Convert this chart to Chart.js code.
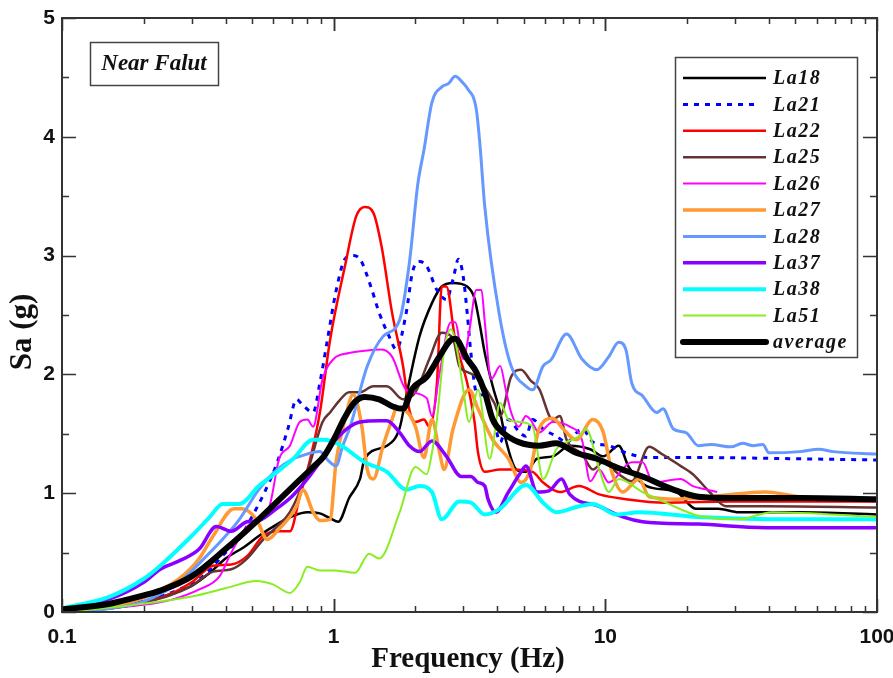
<!DOCTYPE html>
<html>
<head>
<meta charset="utf-8">
<script src="https://cdn.jsdelivr.net/npm/chart.js@4/dist/chart.umd.min.js"></script>
<style>
html,body{margin:0;padding:0;background:#fff;}
#c{display:block;}
</style>
</head>
<body>
<canvas id="c" width="893" height="678"></canvas>
<script>
// ---------- data (frequency in Hz, Sa in g) ----------
const la18F = [0.1,0.15,0.2,0.25,0.3,0.35,0.4,0.47,0.53,0.62,0.71,0.8,0.89,0.97,1.04,1.14,1.25,1.3,1.57,1.75,1.85,2.07,2.3,2.5,2.75,3.1,3.3,3.45,3.6,3.85,4.1,4.3,4.7,5.1,5.6,6.4,7.4,8.8,9.8,11.2,12.2,14.2,18.3,21.5,26,31,52,100];
const la18V = [0.01,0.04,0.09,0.15,0.22,0.33,0.45,0.55,0.64,0.74,0.81,0.84,0.83,0.79,0.76,0.96,1.12,1.29,1.4,1.55,1.82,2.32,2.6,2.74,2.77,2.74,2.64,2.42,2.18,1.9,1.68,1.45,1.2,1.18,1.29,1.31,1.4,1.37,1.31,1.4,1.22,1.06,1.01,0.87,0.87,0.84,0.84,0.82];

const la21F = [0.1,0.15,0.2,0.27,0.33,0.4,0.45,0.5,0.56,0.62,0.68,0.73,0.77,0.84,0.89,0.95,1.02,1.1,1.17,1.25,1.37,1.47,1.6,1.7,1.85,1.95,2.07,2.2,2.4,2.6,2.75,2.88,3.0,3.1,3.2,3.35,3.6,3.95,4.1,4.4,4.8,5.1,5.4,5.9,6.6,7.2,8.2,9,10.3,11.9,14.5,22,50,100];
const la21V = [0.01,0.04,0.09,0.19,0.3,0.5,0.62,0.8,1.02,1.26,1.55,1.79,1.74,1.68,1.93,2.3,2.7,2.97,3.0,2.97,2.74,2.52,2.32,2.21,2.52,2.86,2.95,2.91,2.71,2.63,2.8,2.97,2.82,2.52,2.18,1.85,1.82,1.54,1.43,1.62,1.52,1.48,1.62,1.54,1.48,1.43,1.54,1.43,1.4,1.34,1.3,1.3,1.29,1.28];

const la22F = [0.1,0.15,0.2,0.25,0.3,0.36,0.42,0.48,0.55,0.63,0.69,0.75,0.82,0.89,0.97,1.1,1.21,1.3,1.4,1.5,1.64,1.8,1.9,2.0,2.15,2.25,2.4,2.5,2.6,2.8,3.1,3.3,3.4,3.6,4.1,4.5,5.4,5.9,6.8,8,9.5,11.9,16.7,29,100];
const la22V = [0.01,0.03,0.08,0.15,0.25,0.39,0.4,0.47,0.64,0.68,0.68,0.97,1.29,1.68,2.29,2.91,3.33,3.41,3.36,3.08,2.52,2.07,1.7,1.6,1.62,1.56,1.93,2.74,2.74,2.29,1.93,1.6,1.34,1.18,1.2,1.2,1.18,1.09,1.01,1.06,0.99,0.95,0.92,0.93,0.93];

const la25F = [0.1,0.15,0.2,0.25,0.3,0.36,0.42,0.48,0.55,0.62,0.69,0.8,0.91,0.97,1.05,1.14,1.25,1.4,1.57,1.8,2.0,2.25,2.5,2.75,2.9,3.1,3.35,3.9,4.1,4.5,4.9,5.3,5.7,6.4,6.8,7.2,8.2,9,9.8,11.2,12.5,14.5,15.9,18.9,21,24.2,27.8,39,100];
const la25V = [0.01,0.03,0.08,0.14,0.22,0.34,0.36,0.45,0.61,0.72,0.84,1.18,1.6,1.68,1.78,1.85,1.85,1.9,1.9,1.79,1.85,2.13,2.35,2.3,2.07,2.02,1.98,1.76,1.65,1.98,2.04,1.95,1.88,1.62,1.65,1.45,1.33,1.2,1.26,1.16,1.1,1.39,1.34,1.23,1.16,1.01,0.89,0.89,0.88];

const la26F = [0.1,0.2,0.25,0.32,0.38,0.42,0.48,0.58,0.63,0.69,0.75,0.8,0.84,0.91,1.0,1.14,1.3,1.5,1.64,1.85,2.2,2.3,2.45,2.7,2.8,3.0,3.15,3.35,3.5,3.6,3.8,4.1,4.3,4.5,4.8,5.1,5.3,5.7,6.4,7.4,8.2,8.8,9.5,10.3,12.5,13.7,15,18.9,21,23.7,25.8];
const la26V = [0.01,0.06,0.1,0.19,0.3,0.5,0.72,0.89,1.29,1.4,1.6,1.62,1.56,1.96,2.13,2.18,2.2,2.21,2.15,1.87,1.8,1.65,2.0,2.44,2.44,2.13,2.35,2.71,2.71,2.44,1.96,2.07,1.87,1.68,1.56,1.65,1.62,1.51,1.6,1.56,1.45,1.1,1.2,1.09,1.26,1.26,1.09,1.12,1.06,1.03,1.01];

const la27F = [0.1,0.15,0.2,0.27,0.32,0.36,0.43,0.46,0.52,0.57,0.63,0.73,0.77,0.84,0.89,0.97,1.02,1.1,1.18,1.27,1.33,1.4,1.52,1.64,1.7,1.85,2.0,2.15,2.3,2.45,2.55,2.75,3.15,3.4,3.85,4.4,4.9,5.3,5.7,6.4,7.0,7.8,9.0,9.8,10.6,11.6,13.3,14.5,18.3,39,52,100];
const la27V = [0.01,0.04,0.12,0.28,0.45,0.64,0.87,0.87,0.78,0.61,0.7,0.89,1.03,0.84,0.77,0.78,1.26,1.62,1.83,1.56,1.2,1.12,1.4,1.62,1.71,1.69,1.56,1.3,1.62,1.35,1.2,1.54,1.87,1.71,1.45,1.29,1.09,1.2,1.54,1.63,1.54,1.45,1.62,1.52,1.17,1.01,1.12,0.97,0.95,1.01,0.97,0.95];

const la28F = [0.1,0.15,0.2,0.27,0.34,0.4,0.45,0.53,0.62,0.71,0.75,0.89,0.95,1.02,1.08,1.15,1.33,1.52,1.75,1.9,2.04,2.15,2.3,2.5,2.65,2.8,3.0,3.1,3.35,3.45,3.6,4.06,4.5,5.1,5.4,5.9,6.3,7.2,8.2,9.3,10.3,11.2,11.9,12.5,13.7,15.5,16.3,17.8,19.8,22,24.5,29,32,35,38,40,52,61,69,100];
const la28V = [0.01,0.03,0.09,0.25,0.47,0.64,0.78,1.03,1.2,1.29,1.31,1.35,1.28,1.23,1.4,1.56,2.07,2.32,2.46,2.94,3.6,3.89,4.29,4.42,4.45,4.51,4.45,4.41,4.23,3.95,3.41,2.52,2.07,1.9,1.87,2.07,2.12,2.34,2.13,2.04,2.15,2.27,2.21,1.93,1.82,1.68,1.71,1.54,1.51,1.4,1.41,1.39,1.42,1.4,1.41,1.34,1.35,1.37,1.35,1.33];

const la37F = [0.1,0.15,0.2,0.23,0.27,0.32,0.37,0.42,0.48,0.53,0.6,0.7,0.8,0.9,1.02,1.13,1.25,1.48,1.57,1.75,1.9,2.07,2.3,2.6,2.95,3.2,3.4,3.6,3.7,3.95,4.4,4.9,5.1,5.6,6.2,6.9,7.4,9.5,11.6,13.7,22,39,100];
const la37V = [0.02,0.11,0.25,0.36,0.43,0.53,0.72,0.68,0.76,0.77,0.85,0.97,1.12,1.28,1.45,1.55,1.6,1.61,1.61,1.51,1.4,1.35,1.44,1.31,1.14,1.14,1.09,1.06,0.95,0.84,1.01,1.18,1.23,1.01,1.02,1.12,0.99,0.89,0.8,0.76,0.74,0.71,0.71];

const la38F = [0.1,0.15,0.2,0.23,0.3,0.35,0.39,0.45,0.53,0.62,0.71,0.84,0.92,1.05,1.3,1.57,1.85,2.07,2.3,2.5,2.9,3.2,3.6,4.1,5.1,5.9,6.6,8,9,11,13.3,22,50,100];
const la38V = [0.03,0.13,0.28,0.39,0.64,0.8,0.91,0.91,1.06,1.18,1.29,1.45,1.45,1.41,1.26,1.18,1.03,1.06,1.01,0.78,0.93,0.92,0.82,0.87,1.07,0.92,0.84,0.89,0.91,0.82,0.84,0.8,0.78,0.78];

const la51F = [0.1,0.17,0.3,0.4,0.52,0.6,0.69,0.75,0.8,0.89,1.0,1.2,1.35,1.47,1.75,2.0,2.2,2.3,2.4,2.55,2.7,2.85,3.0,3.15,3.4,3.75,4.1,4.4,4.8,5.4,5.9,6.6,7.2,8,8.5,9.5,10.3,11.2,13.7,16.7,22,31,41,100];
const la51V = [0.0,0.05,0.13,0.2,0.26,0.23,0.16,0.25,0.38,0.35,0.35,0.33,0.49,0.45,0.84,1.22,1.16,1.34,1.62,2.2,2.38,2.2,1.87,1.6,1.87,1.29,1.76,1.62,1.6,1.56,1.12,1.37,1.43,1.48,1.54,1.2,1.01,1.12,1.01,0.92,0.81,0.78,0.84,0.8];

const avgF = [0.1,0.15,0.2,0.23,0.3,0.4,0.53,0.71,0.84,0.92,1.0,1.1,1.2,1.3,1.47,1.65,1.8,1.95,2.2,2.45,2.7,2.8,3.1,3.35,3.6,3.85,4.2,4.8,5.7,6.6,7.8,9.3,11.2,13.7,17.8,22,29,52,100];
const avgV = [0.02,0.07,0.14,0.18,0.3,0.53,0.78,1.06,1.22,1.31,1.45,1.64,1.77,1.81,1.79,1.73,1.71,1.88,1.98,2.15,2.29,2.3,2.13,2.02,1.85,1.62,1.51,1.43,1.4,1.42,1.34,1.29,1.21,1.14,1.03,0.97,0.96,0.96,0.95];

const seriesNames = ["La18","La21","La22","La25","La26","La27","La28","La37","La38","La51","average"];
const xTickLabels = [0.1, 1, 10, 100];
const yTickLabels = [0, 1, 2, 3, 4, 5];
const noteText = "Near Falut";
const xTitle = "Frequency (Hz)";
const yTitle = "Sa (g)";

// ---------- styles ----------
const styles = [
  {color:"#000000", width:2.5},
  {color:"#0000ff", width:3, dash:[5,6]},
  {color:"#ff0000", width:2.5},
  {color:"#663333", width:2.5},
  {color:"#ff00ff", width:2},
  {color:"#ff9933", width:3.5},
  {color:"#6699ff", width:3},
  {color:"#8800ff", width:3.5},
  {color:"#00ffff", width:4},
  {color:"#88ee22", width:2},
  {color:"#000000", width:6}
];
const allF = [la18F,la21F,la22F,la25F,la26F,la27F,la28F,la37F,la38F,la51F,avgF];
const allV = [la18V,la21V,la22V,la25V,la26V,la27V,la28V,la37V,la38V,la51V,avgV];

const datasets = seriesNames.map((name,i)=>({
  label: name,
  data: allF[i].map((f,j)=>({x:f, y:allV[i][j]})),
  borderColor: styles[i].color,
  backgroundColor: styles[i].color,
  borderWidth: styles[i].width,
  borderDash: styles[i].dash || [],
  pointRadius: 0,
  fill: false,
  cubicInterpolationMode: 'monotone',
  order: name === "average" ? 0 : (seriesNames.length - i)
}));

const frameColor = "#333";
const decorPlugin = {
  id: 'decor',
  afterDatasetsDraw(chart){
    const ctx = chart.ctx;
    const a = chart.chartArea;
    const xs = chart.scales.x, ys = chart.scales.y;
    ctx.save();
    // frame
    ctx.strokeStyle = frameColor;
    ctx.lineWidth = 2;
    ctx.setLineDash([]);
    ctx.strokeRect(a.left, a.top, a.right - a.left, a.bottom - a.top);
    ctx.lineWidth = 1.5;
    // x ticks (log)
    for (let d = 0.1; d < 100; d *= 10) {
      for (let m = 1; m <= 10; m++) {
        const v = +(d*m).toPrecision(6);
        if (v < 0.1 || v > 100) continue;
        const px = Math.round(xs.getPixelForValue(v)) + 0.5;
        const major = (m === 1 || m === 10);
        const len = major ? 13 : 6;
        ctx.beginPath();
        ctx.moveTo(px, a.bottom); ctx.lineTo(px, a.bottom - len);
        ctx.moveTo(px, a.top); ctx.lineTo(px, a.top + len);
        ctx.stroke();
      }
    }
    // y ticks
    for (let v = 0; v <= 5.001; v += 0.5) {
      const py = Math.round(ys.getPixelForValue(v)) + 0.5;
      const major = Math.abs(v - Math.round(v)) < 1e-6;
      const len = major ? 14 : 7;
      ctx.beginPath();
      ctx.moveTo(a.left, py); ctx.lineTo(a.left + len, py);
      ctx.moveTo(a.right, py); ctx.lineTo(a.right - len, py);
      ctx.stroke();
    }
    // note box
    ctx.fillStyle = "#fff";
    ctx.fillRect(90, 42, 128, 43);
    ctx.strokeStyle = "#444";
    ctx.lineWidth = 1.5;
    ctx.strokeRect(90.5, 42.5, 128, 43);
    ctx.fillStyle = "#111";
    ctx.font = "italic bold 23px 'Liberation Serif'";
    ctx.textBaseline = "middle";
    ctx.textAlign = "center";
    ctx.fillText(noteText, 154, 64);
    // legend box
    const lx = 675, ly = 57, lw = 182, lh = 300;
    ctx.fillStyle = "#fff";
    ctx.fillRect(lx, ly, lw, lh);
    ctx.strokeStyle = "#444";
    ctx.lineWidth = 1.5;
    ctx.strokeRect(lx + 0.5, ly + 0.5, lw, lh);
    ctx.textAlign = "left";
    ctx.font = "italic bold 20px 'Liberation Serif'";
    try { ctx.letterSpacing = "1.5px"; } catch(e) {}
    chart.data.datasets.forEach((ds, i) => {
      const y = 78 + i * 26.4;
      ctx.beginPath();
      ctx.strokeStyle = ds.borderColor;
      ctx.lineWidth = ds.borderWidth;
      ctx.lineCap = ds.label === "average" ? "round" : "butt";
      ctx.setLineDash(ds.borderDash || []);
      const x2 = (ds.borderDash && ds.borderDash.length) ? 756 : 766;
      ctx.moveTo(683, y); ctx.lineTo(x2, y);
      ctx.stroke();
      ctx.setLineDash([]);
      ctx.fillStyle = "#111";
      ctx.fillText(ds.label, 773, y + 1);
    });
    try { ctx.letterSpacing = "0px"; } catch(e) {}
    // axis titles
    ctx.fillStyle = "#111";
    ctx.font = "bold 29px 'Liberation Serif'";
    ctx.textAlign = "center";
    ctx.textBaseline = "middle";
    ctx.fillText(xTitle, 468, 660);
    ctx.font = "bold 31px 'Liberation Serif'";
    ctx.save();
    ctx.translate(23, 332);
    ctx.rotate(-Math.PI/2);
    ctx.fillText(yTitle, 0, 0);
    ctx.restore();
    ctx.restore();
  }
};

new Chart(document.getElementById('c'), {
  type: 'line',
  data: { datasets },
  options: {
    responsive: false,
    animation: false,
    devicePixelRatio: 1,
    layout: { padding: { top: 18, right: 16, left: 0, bottom: 0 } },
    plugins: { legend: { display: false }, tooltip: { enabled: false } },
    scales: {
      x: {
        type: 'logarithmic',
        min: 0.1, max: 100,
        grid: { display: false, drawTicks: false },
        border: { display: false },
        afterBuildTicks: s => { s.ticks = xTickLabels.map(v => ({ value: v })); },
        afterFit: s => { s.height = 66; s.paddingLeft = 0; s.paddingRight = 0; },
        ticks: {
          autoSkip: false, maxRotation: 0, padding: 13,
          color: "#111",
          font: { family: "'Liberation Sans'", weight: 'bold', size: 21 },
          callback: v => String(v)
        }
      },
      y: {
        min: 0, max: 5,
        grid: { display: false, drawTicks: false },
        border: { display: false },
        afterBuildTicks: s => { s.ticks = yTickLabels.map(v => ({ value: v })); },
        afterFit: s => { s.width = 62; s.paddingTop = 0; s.paddingBottom = 0; },
        ticks: {
          padding: 7,
          color: "#111",
          font: { family: "'Liberation Sans'", weight: 'bold', size: 21 },
          callback: v => String(v)
        }
      }
    }
  },
  plugins: [decorPlugin]
});
</script>
</body>
</html>
